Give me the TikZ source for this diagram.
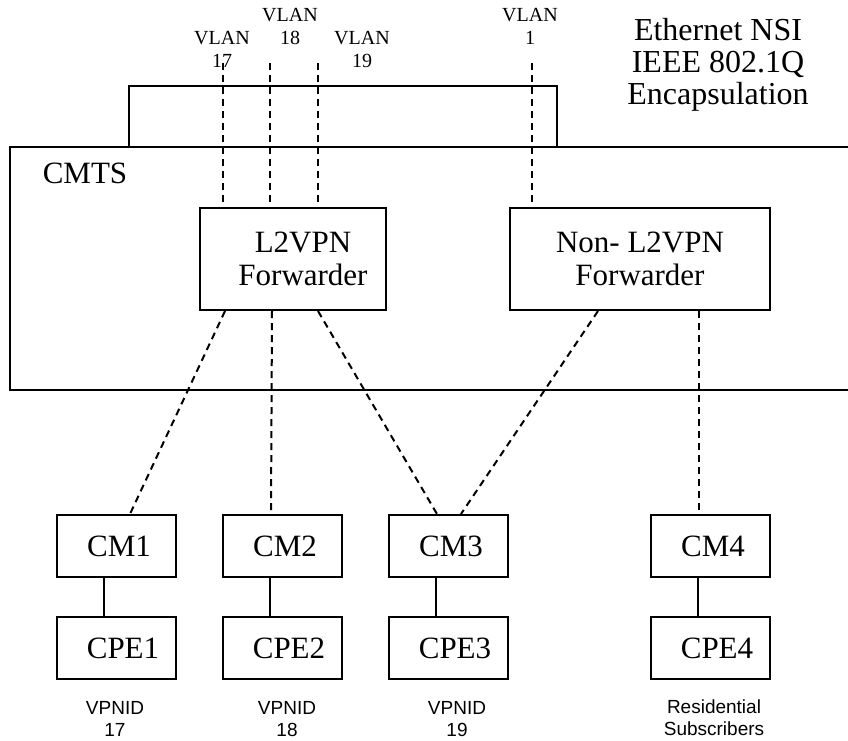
\documentclass[tikz,border=0pt]{standalone}
\usepackage{fontspec}
\setmainfont{Liberation Serif}
\newfontfamily\labelfont{Liberation Sans}
\usetikzlibrary{positioning}

\begin{document}
\begin{tikzpicture}[x=1pt,y=-1pt,
    box/.style={draw,line width=2pt,align=center,font=\fontsize{31}{33}\selectfont},
    fwd/.style={box,minimum height=102pt},
    dev/.style={box,minimum width=119pt,minimum height=62pt},
    vlan/.style={align=center,font=\fontsize{20}{23}\selectfont},
    vpn/.style={align=center,font=\labelfont\fontsize{19}{22}\selectfont},
    link/.style={line width=2pt,dash pattern=on 7pt off 5pt},
    wire/.style={line width=1.4pt}]
    \useasboundingbox (0,0) rectangle (848,740);

    % CMTS chassis and NSI encapsulation
    \draw[line width=2pt] (849,147) -- (10,147) -- (10,390) -- (849,390);
    \draw[line width=2pt] (129,147) |- (557,86) -- (557,147);
    \node[font=\fontsize{31}{33}\selectfont] (cmts) at (85,173) {CMTS};
    \node[align=center,font=\fontsize{32}{32}\selectfont] (nsi) at (718,65) {Ethernet NSI\\IEEE 802.1Q\\Encapsulation};

    % forwarders
    \node[fwd,minimum width=186pt] (l2fwd) at (293,259) {\hspace*{20pt}L2VPN\\\hspace*{20pt}Forwarder};
    \node[fwd,minimum width=260pt] (nonfwd) at (640,259) {Non- L2VPN\\Forwarder};

    % cable modems and CPEs
    \node[dev] (cm1) at (116,546) {\hspace*{6pt}CM1};
    \node[dev] (cm2) at (282,546) {\hspace*{6pt}CM2};
    \node[dev] (cm3) at (448,546) {\hspace*{6pt}CM3};
    \node[dev] (cm4) at (710,546) {\hspace*{6pt}CM4};
    \node[dev] (cpe1) at (116,648) {\hspace*{14pt}CPE1};
    \node[dev] (cpe2) at (282,648) {\hspace*{14pt}CPE2};
    \node[dev] (cpe3) at (448,648) {\hspace*{14pt}CPE3};
    \node[dev] (cpe4) at (710,648) {\hspace*{14pt}CPE4};

    % VLAN tags
    \node[vlan] (vlan17) at (222,49) {VLAN\\17};
    \node[vlan] (vlan18) at (290,26) {VLAN\\18};
    \node[vlan] (vlan19) at (362,49) {VLAN\\19};
    \node[vlan] (vlan1) at (530,26) {VLAN\\1};
    \coordinate (t17) at (223,63);
    \coordinate (t18) at (270,63);
    \coordinate (t19) at (318,63);
    \coordinate (t1) at (532,63);

    \draw[link] (t17) -- (t17 |- l2fwd.north);
    \draw[link] (t18) -- (t18 |- l2fwd.north);
    \draw[link] (t19) -- (t19 |- l2fwd.north);
    \draw[link] (t1) -- (t1 |- nonfwd.north);

    \draw[link] ([xshift=-68pt]l2fwd.south) -- ([xshift=14pt]cm1.north);
    \draw[link] ([xshift=-21pt]l2fwd.south) -- ([xshift=-11pt]cm2.north);
    \draw[link] ([xshift=25pt]l2fwd.south) -- ([xshift=-11pt]cm3.north);
    \draw[link] ([xshift=-42pt]nonfwd.south) -- ([xshift=13pt]cm3.north);
    \draw[link] ([xshift=59pt]nonfwd.south) -- ([xshift=-11pt]cm4.north);

    \foreach \i in {1,...,4}
      \draw[wire] ([xshift=-12pt]cm\i.south) -- ([xshift=-12pt]cpe\i.north);

    % subscriber groups
    \node[vpn] (vpn17) at (115,719) {VPNID\\17};
    \node[vpn] (vpn18) at (287,719) {VPNID\\18};
    \node[vpn] (vpn19) at (457,719) {VPNID\\19};
    \node[vpn] (resid) at (714,718) {Residential\\Subscribers};
\end{tikzpicture}
\end{document}
